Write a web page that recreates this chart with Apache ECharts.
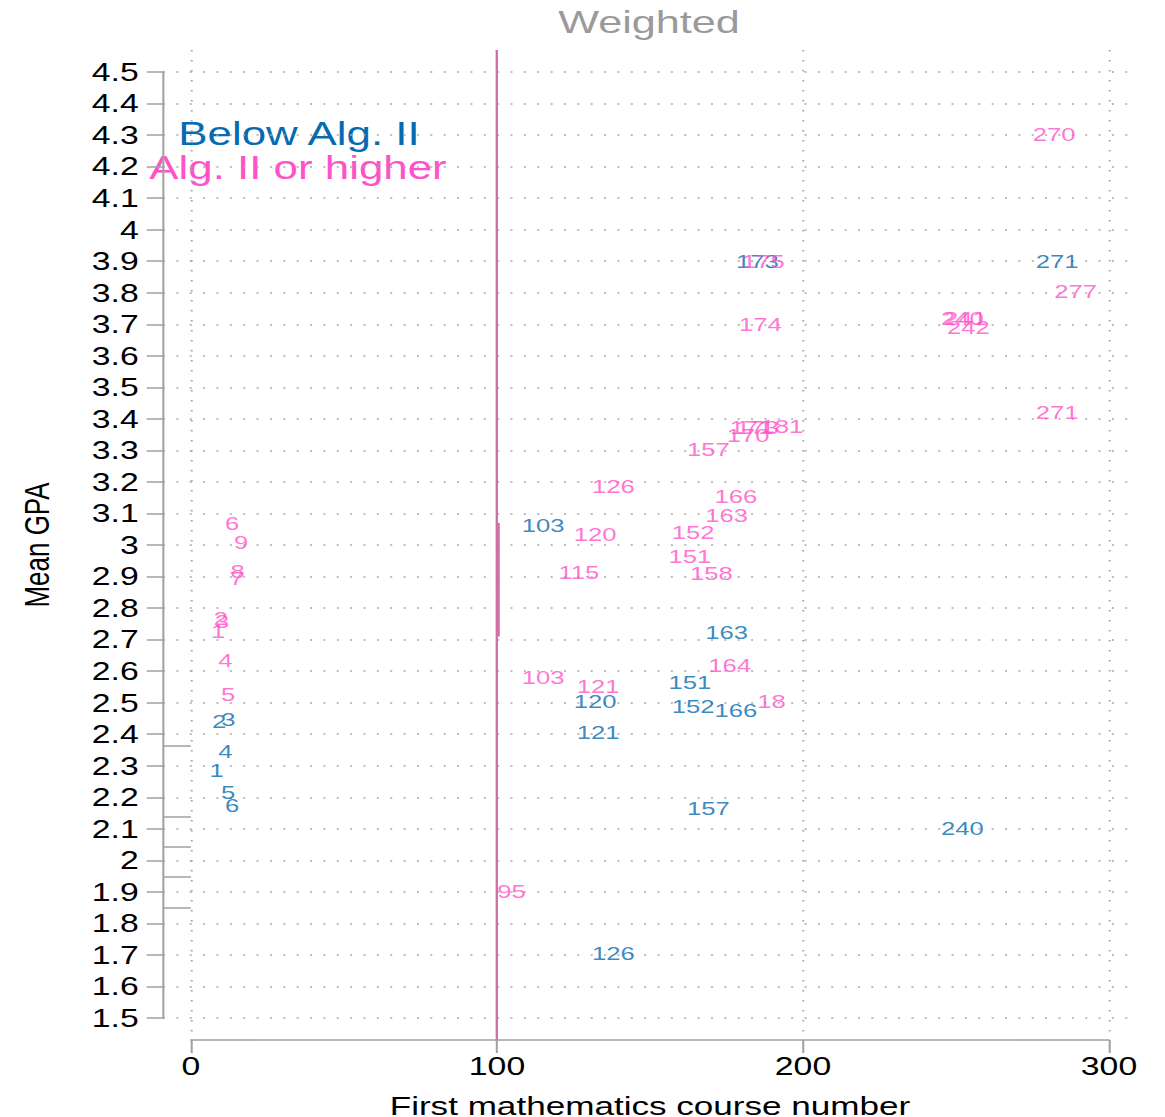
<!DOCTYPE html>
<html>
<head>
<meta charset="utf-8">
<title>Weighted</title>
<script src="https://cdn.jsdelivr.net/npm/echarts@6/dist/echarts.min.js"></script>
<style>
  html, body { margin: 0; padding: 0; background: #fff; overflow: hidden; }
  /* the original picture is stretched sideways, so the chart is drawn narrow and widened */
  #chart { width: 862.96px; height: 1117px; transform: scaleX(1.35); transform-origin: 0 0; }
</style>
</head>
<body>
<div id="chart"></div>
<script>
// tick values
const xTicks = [0, 100, 200, 300];
const yTicks = [1.5, 1.6, 1.7, 1.8, 1.9, 2, 2.1, 2.2, 2.3, 2.4, 2.5, 2.6, 2.7, 2.8, 2.9,
  3, 3.1, 3.2, 3.3, 3.4, 3.5, 3.6, 3.7, 3.8, 3.9, 4, 4.1, 4.2, 4.3, 4.4, 4.5];

// Below Alg. II
const belowX = [173, 271, 103, 163, 151, 120, 152, 166, 121, 157, 240, 126, 1, 1.8, 4.8, 3.8, 4.7, 6];
const belowY = [3.897, 3.9, 3.06, 2.721, 2.562, 2.502, 2.486, 2.474, 2.404, 2.163, 2.099, 1.703,
  2.283, 2.439, 2.445, 2.343, 2.213, 2.172];
const belowLabels = ['173', '271', '103', '163', '151', '120', '152', '166', '121', '157', '240', '126',
  '1', '2', '3', '4', '5', '6'];

// Alg. II or higher
const algX = [270, 277, 240, 241, 242, 174, 175, 271, 171, 173, 181, 170, 157, 126, 166, 163, 152, 120,
  151, 115, 158, 164, 103, 121, 180, 95, 1.5, 2.3, 2.8, 3.8, 4.7, 6, 7.5, 7.8, 9];
const algY = [4.3, 3.802, 3.717, 3.717, 3.69, 3.7, 3.9, 3.419, 3.371, 3.371, 3.375, 3.346, 3.301, 3.184,
  3.152, 3.092, 3.038, 3.032, 2.962, 2.911, 2.908, 2.616, 2.578, 2.55, 2.502, 1.9,
  2.724, 2.765, 2.756, 2.632, 2.524, 3.067, 2.892, 2.914, 3.006];
const algLabels = ['270', '277', '240', '241', '242', '174', '175', '271', '171', '173', '181', '170', '157',
  '126', '166', '163', '152', '120', '151', '115', '158', '164', '103', '121', '18', '95',
  '1', '2', '3', '4', '5', '6', '7', '8', '9'];

// reference line and short marks left of zero
const refX = 100;
const refSeg = [100.4, 3.07, 2.71];
const rugY = [2.363, 2.138, 2.043, 1.948, 1.85];

const BLUE = '#066bb0';
const PINK = '#ff52c8';
const LINEPINK = '#d06ea3';
const GRAY = '#a0a0a0';
const FONT = 'Liberation Sans, Arial, sans-serif';

// layout (picture px / stretch)
const S = 1.35;
const px = v => v / S;
const plotL = px(163), plotR = px(1135), tickL = px(191), tickR = px(1109);
const plotT = 50, plotB = 1040, tickT = 72, tickB = 1018;
const xLo = xTicks[0], xHi = xTicks[xTicks.length - 1];
const yLo = yTicks[0], yHi = yTicks[yTicks.length - 1];
const kx = (tickR - tickL) / (xHi - xLo);
const ky = (tickB - tickT) / (yHi - yLo);
const xMin = xLo - (tickL - plotL) / kx, xMax = xHi + (plotR - tickR) / kx;
const yMin = yLo - (plotB - tickB) / ky, yMax = yHi + (tickT - plotT) / ky;

const chart = echarts.init(document.getElementById('chart'), null, { renderer: 'svg' });

function labelSeries(name, xs, ys, labels, color) {
  return {
    name: name,
    type: 'scatter',
    xAxisIndex: 1,
    yAxisIndex: 1,
    silent: true,
    symbolSize: 0,
    itemStyle: { color: 'rgba(0,0,0,0)' },
    data: xs.map((x, i) => [x, ys[i]]),
    label: {
      show: true,
      position: 'right',
      distance: 11.5,
      formatter: p => labels[p.dataIndex],
      color: color,
      fontSize: 19,
      fontFamily: FONT
    },
    labelLayout: { hideOverlap: false },
    emphasis: { disabled: true }
  };
}

const option = {
  animation: false,
  title: {
    text: 'Weighted',
    left: (plotL + plotR) / 2,
    top: 6,
    textAlign: 'center',
    padding: 0,
    textStyle: { fontSize: 32, fontWeight: 'normal', color: '#9a9a9a', fontFamily: FONT }
  },
  graphic: [
    { type: 'text', x: px(299), y: 134, silent: true,
      style: { text: 'Below Alg. II', fill: BLUE, fontSize: 32.5, fontFamily: FONT,
        align: 'center', verticalAlign: 'middle', textAlign: 'center', textVerticalAlign: 'middle' } },
    { type: 'text', x: px(298), y: 168, silent: true,
      style: { text: 'Alg. II or higher', fill: PINK, fontSize: 32.5, fontFamily: FONT,
        align: 'center', verticalAlign: 'middle', textAlign: 'center', textVerticalAlign: 'middle' } }
  ],
  grid: [
    { left: plotL, top: plotT, width: plotR - plotL, height: plotB - plotT, outerBoundsMode: 'none', containLabel: false },
    { left: tickL, top: tickT, width: tickR - tickL, height: tickB - tickT, outerBoundsMode: 'none', containLabel: false }
  ],
  xAxis: [
    {
      gridIndex: 0, type: 'value', min: xMin, max: xMax,
      axisLine: { show: false },
      axisTick: { show: false, customValues: xTicks },
      axisLabel: { show: false, customValues: xTicks },
      splitLine: { show: true, lineStyle: { color: '#a8a8a8', width: 1.5, type: [1.5, 8.5] } }
    },
    {
      gridIndex: 1, type: 'value', min: xLo, max: xHi, interval: 100,
      offset: plotB - tickB,
      axisLine: { onZero: false, lineStyle: { color: GRAY, width: 1.5 } },
      axisTick: { length: 13, lineStyle: { color: GRAY, width: 1.5 } },
      axisLabel: { fontSize: 25, color: '#000', margin: 14, fontFamily: FONT },
      splitLine: { show: false },
      name: 'First mathematics course number',
      nameLocation: 'middle',
      nameGap: 53,
      nameTextStyle: { fontSize: 26, color: '#000', fontFamily: FONT }
    }
  ],
  yAxis: [
    {
      gridIndex: 0, type: 'value', min: yMin, max: yMax,
      axisLine: { show: false },
      axisTick: { show: false, customValues: yTicks },
      axisLabel: { show: false, customValues: yTicks },
      splitLine: { show: true, lineStyle: { color: '#a8a8a8', width: 1.5, type: [1.5, 8.4] } }
    },
    {
      gridIndex: 1, type: 'value', min: yLo, max: yHi, interval: 0.1,
      offset: tickL - plotL,
      axisLine: { onZero: false, lineStyle: { color: GRAY, width: 1.5 } },
      axisTick: { length: 12, lineStyle: { color: GRAY, width: 1.5 } },
      axisLabel: { fontSize: 25, color: '#000', margin: 18, fontFamily: FONT },
      splitLine: { show: false },
      name: 'Mean GPA',
      nameLocation: 'middle',
      nameGap: 80,
      nameTextStyle: { fontSize: 26, color: '#000', fontFamily: FONT }
    }
  ],
  series: [
    {
      type: 'scatter',
      xAxisIndex: 0,
      yAxisIndex: 0,
      silent: true,
      data: [],
      markLine: {
        silent: true,
        animation: false,
        symbol: ['none', 'none'],
        label: { show: false },
        emphasis: { disabled: true },
        data: [
          { xAxis: refX, lineStyle: { color: LINEPINK, width: 1.7, type: 'solid' } },
          [
            { coord: [refSeg[0], refSeg[1]], lineStyle: { color: LINEPINK, width: 1.4, type: 'solid' } },
            { coord: [refSeg[0], refSeg[2]] }
          ]
        ].concat(rugY.map(y => [
          { coord: [xMin, y], lineStyle: { color: GRAY, width: 1.5, type: 'solid' } },
          { coord: [xLo, y] }
        ]))
      }
    },
    labelSeries('Below Alg. II', belowX, belowY, belowLabels, BLUE),
    labelSeries('Alg. II or higher', algX, algY, algLabels, PINK)
  ]
};

chart.setOption(option);
</script>
</body>
</html>
